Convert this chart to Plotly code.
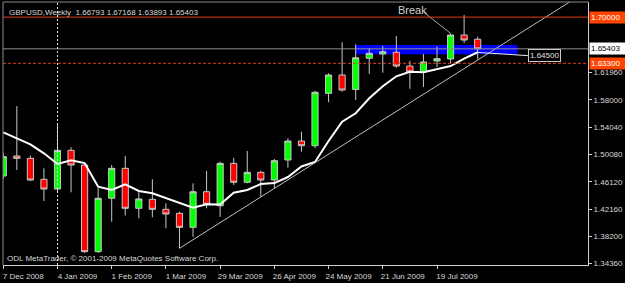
import plotly.graph_objects as go

# ---------------- data ----------------
bars = list(range(36))
opens = [1.4697, 1.4987, 1.4953, 1.4649, 1.4508, 1.5069, 1.4856, 1.3600, 1.4374, 1.4808,
         1.4229, 1.4359, 1.4214, 1.4156, 1.3953, 1.4469, 1.4266, 1.4880, 1.4606, 1.4750,
         1.4639, 1.4929, 1.5204, 1.5136, 1.5895, 1.6161, 1.5951, 1.6403, 1.6465, 1.6490,
         1.6291, 1.6204, 1.6364, 1.6393, 1.6740, 1.66793]
highs = [1.5030, 1.5711, 1.4994, 1.4808, 1.5436, 1.5113, 1.4885, 1.4527, 1.4856, 1.4987,
         1.4461, 1.4649, 1.4301, 1.4179, 1.4591, 1.4770, 1.4904, 1.4962, 1.5059, 1.4774,
         1.4943, 1.5243, 1.5339, 1.5933, 1.6185, 1.6635, 1.6605, 1.6547, 1.6581, 1.6726,
         1.6368, 1.6465, 1.6575, 1.6765, 1.7030, 1.67168]
lows = [1.4653, 1.4784, 1.4625, 1.4335, 1.4465, 1.4461, 1.3581, 1.3581, 1.4035, 1.4122,
        1.4084, 1.4098, 1.3939, 1.3649, 1.3815, 1.4229, 1.4103, 1.4566, 1.4591, 1.4397,
        1.4519, 1.4817, 1.5049, 1.5098, 1.5765, 1.5919, 1.5798, 1.6175, 1.6194, 1.6266,
        1.5962, 1.5988, 1.6277, 1.6330, 1.6624, 1.63893]
closes = [1.4977, 1.4953, 1.4639, 1.4508, 1.5069, 1.4856, 1.3600, 1.4374, 1.4808, 1.4229,
          1.4364, 1.4214, 1.4146, 1.3953, 1.4469, 1.4287, 1.4880, 1.4606, 1.4750, 1.4639,
          1.4919, 1.5204, 1.5136, 1.5910, 1.6161, 1.5943, 1.6411, 1.6475, 1.6498, 1.6291,
          1.6204, 1.6349, 1.6397, 1.6740, 1.6668, 1.65403]
ma = [1.5330, 1.5243, 1.5156, 1.5026, 1.4871, 1.4924, 1.4885, 1.4542, 1.4494, 1.4577,
      1.4480, 1.4446, 1.4374, 1.4310, 1.4237, 1.4287, 1.4284, 1.4455, 1.4494, 1.4581,
      1.4595, 1.4682, 1.4835, 1.4900, 1.5204, 1.5484, 1.5606, 1.5823, 1.5997, 1.6142,
      1.6209, 1.6200, 1.6248, 1.6291, 1.6397, 1.6491]

date_idx = [0, 4, 8, 12, 16, 20, 24, 28, 32]
date_labels = ["7 Dec 2008", "4 Jan 2009", "1 Feb 2009", "1 Mar 2009", "29 Mar 2009",
               "26 Apr 2009", "24 May 2009", "21 Jun 2009", "19 Jul 2009"]
price_ticks = [1.3436, 1.3820, 1.4216, 1.4612, 1.5008, 1.5404, 1.5800, 1.6196]

trend_x = [13, 42]
trend_y = [1.3649, 1.7246]
level_high = 1.70000
level_low = 1.63300
bid = 1.65403
zone_x = [26, 37.95]
zone_y = [1.6461, 1.6595]
target_x = [35, 38.7]
target_y = [1.6488, 1.6442]
target_price = 1.64500
break_x = [31.0, 33]
break_y = [1.7074, 1.6765]
break_label_pos = (28.95, 1.7103)
sep_bar = 4

title_text = "GBPUSD,Weekly  1.66793 1.67168 1.63893 1.65403"
copyright_text = "ODL MetaTrader, \u00a9 2001-2009 MetaQuotes Software Corp."

FONT = "Liberation Sans, Arial, sans-serif"
TXT = "#d8d8d8"
AXC = "#d0d0d0"
RED_LINE = "#e0401a"
RED_LBL = "#ff4500"

fig = go.Figure()

# zone rectangle (background)
fig.add_shape(type="rect", xref="x", yref="y", x0=zone_x[0], x1=zone_x[1],
              y0=zone_y[0], y1=zone_y[1], fillcolor="#0000ff", line_width=0, layer="below")

# candles
fig.add_trace(go.Candlestick(
    x=bars, open=opens, high=highs, low=lows, close=closes,
    increasing=dict(line=dict(color="#c8c8c8", width=1), fillcolor="#00ff00"),
    decreasing=dict(line=dict(color="#c8c8c8", width=1), fillcolor="#ff0000"),
    whiskerwidth=0, showlegend=False, hoverinfo="skip"))

# moving average
fig.add_trace(go.Scatter(x=bars, y=ma, mode="lines",
                         line=dict(color="#ffffff", width=2), showlegend=False, hoverinfo="skip"))

# trendline
fig.add_trace(go.Scatter(x=trend_x, y=trend_y, mode="lines",
                         line=dict(color="#c0c0c0", width=1), showlegend=False, hoverinfo="skip"))

# break pointer
fig.add_trace(go.Scatter(x=break_x, y=break_y, mode="lines",
                         line=dict(color="#a8a8a8", width=1), showlegend=False, hoverinfo="skip"))

# target line
fig.add_trace(go.Scatter(x=target_x, y=target_y, mode="lines",
                         line=dict(color="#e8e8e8", width=1), showlegend=False, hoverinfo="skip"))

# horizontal levels
fig.add_shape(type="line", xref="x domain", yref="y", x0=0, x1=1, y0=bid, y1=bid,
              line=dict(color="#909090", width=1))
fig.add_shape(type="line", xref="x domain", yref="y", x0=0, x1=1, y0=level_high, y1=level_high,
              line=dict(color=RED_LINE, width=1))
fig.add_shape(type="line", xref="x domain", yref="y", x0=0, x1=1, y0=level_low, y1=level_low,
              line=dict(color=RED_LINE, width=1, dash="3px,2px"))
# separator
fig.add_shape(type="line", xref="x", yref="y domain", x0=sep_bar, x1=sep_bar, y0=0, y1=1,
              line=dict(color="#e8e8e8", width=1, dash="2px,2px"))
# frame top / left
fig.add_shape(type="line", xref="paper", yref="paper", x0=0, x1=1, y0=1, y1=1,
              line=dict(color="#8a8a8a", width=1))
fig.add_shape(type="line", xref="paper", yref="paper", x0=0, x1=0, y0=0, y1=1,
              line=dict(color="#8a8a8a", width=1))

ann = []
ann.append(dict(xref="paper", yref="paper", x=0.006, y=0.985, xanchor="left", yanchor="top",
                text=title_text, showarrow=False, font=dict(family=FONT, size=8, color=TXT)))
ann.append(dict(xref="paper", yref="paper", x=0.003, y=0.0, xanchor="left", yanchor="bottom",
                text=copyright_text, showarrow=False, font=dict(family=FONT, size=8, color=TXT)))
ann.append(dict(xref="x", yref="y", x=break_label_pos[0], y=break_label_pos[1], xanchor="left",
                yanchor="middle", text="Break", showarrow=False,
                font=dict(family=FONT, size=11, color="#d0d0d0")))
ann.append(dict(xref="x", yref="y", x=target_x[1], y=target_price, xanchor="left", yanchor="middle",
                text=f"{target_price:.5f}", showarrow=False, bgcolor="#000000",
                bordercolor="#c8c8c8", borderwidth=1, borderpad=1,
                font=dict(family=FONT, size=8, color="#e0e0e0")))
for price, bg, fg in [(level_high, RED_LBL, "#ffffff"), (bid, "#ffffff", "#000000"),
                      (level_low, RED_LBL, "#ffffff")]:
    ann.append(dict(xref="paper", yref="y", x=1, xshift=1, y=price, xanchor="left",
                    yanchor="middle", text=f"{price:.5f}", showarrow=False, bgcolor=bg,
                    borderpad=1, width=33, align="left",
                    font=dict(family=FONT, size=8, color=fg)))

fig.update_layout(
    width=625, height=283,
    margin=dict(l=3, r=35, t=2, b=18),
    paper_bgcolor="#000000", plot_bgcolor="#000000",
    showlegend=False, boxgap=0.35,
    annotations=ann,
    font=dict(family=FONT, size=8, color=TXT),
    xaxis=dict(range=[-0.02, 43.14], tickvals=date_idx, ticktext=date_labels,
               ticks="outside", ticklen=3, tickcolor=AXC, showline=True, linecolor=AXC,
               linewidth=1, showgrid=False, zeroline=False, rangeslider=dict(visible=False),
               tickfont=dict(family=FONT, size=8, color=TXT), ticklabelshift=20,
               ticklabelstandoff=0),
    yaxis=dict(side="right", range=[1.3407, 1.7219], tickvals=price_ticks,
               ticktext=[f"{v:.5f}" for v in price_ticks], ticks="outside", ticklen=3,
               tickcolor=AXC, showline=True, linecolor=AXC, linewidth=1, showgrid=False,
               zeroline=False, tickfont=dict(family=FONT, size=8, color=TXT),
               ticklabelstandoff=0),
)

fig.write_html("out.html")
